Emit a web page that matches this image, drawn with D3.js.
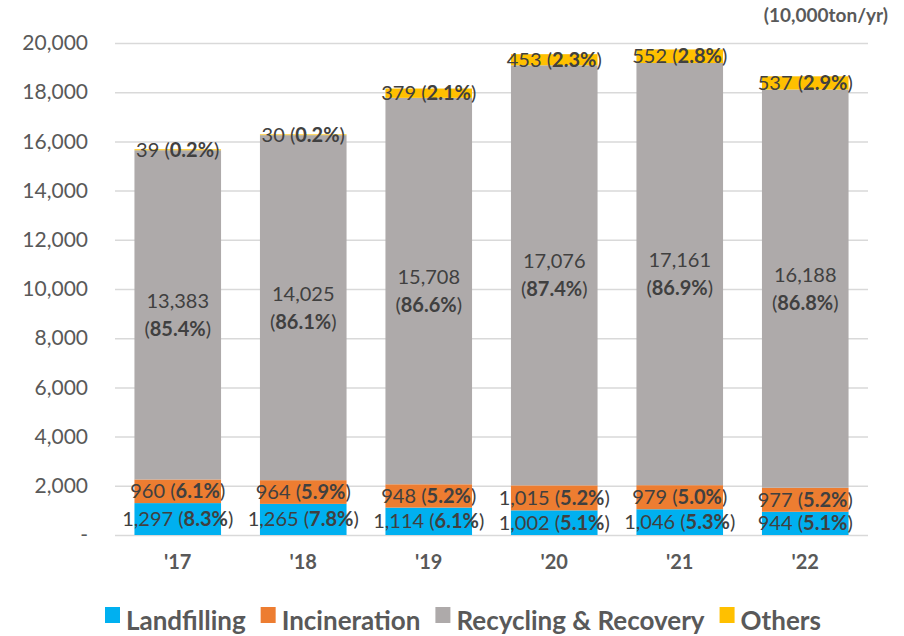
<!DOCTYPE html>
<html>
<head>
<meta charset="utf-8">
<script src="https://cdn.jsdelivr.net/npm/d3@7"></script>
<style>
  body { margin: 0; background: #fff; }
  text { font-family: Lato, "Open Sans", sans-serif; }
  .grid line { stroke: #d9d9d9; stroke-width: 1.5; }
  .grid path { display: none; }
</style>
</head>
<body>
<div id="chart"></div>
<script>
var years = ["'17", "'18", "'19", "'20", "'21", "'22"];
var landfilling = [1297, 1265, 1114, 1002, 1046, 944];
var incineration = [960, 964, 948, 1015, 979, 977];
var recycling = [13383, 14025, 15708, 17076, 17161, 16188];
var others = [39, 30, 379, 453, 552, 537];
var landfillingPct = ["8.3%", "7.8%", "6.1%", "5.1%", "5.3%", "5.1%"];
var incinerationPct = ["6.1%", "5.9%", "5.2%", "5.2%", "5.0%", "5.2%"];
var recyclingPct = ["85.4%", "86.1%", "86.6%", "87.4%", "86.9%", "86.8%"];
var othersPct = ["0.2%", "0.2%", "2.1%", "2.3%", "2.8%", "2.9%"];
var seriesNames = ["Landfilling", "Incineration", "Recycling & Recovery", "Others"];
var colors = ["#00b0f0", "#ed7d31", "#aeaaaa", "#ffc000"];
var yTicks = [0, 2000, 4000, 6000, 8000, 10000, 12000, 14000, 16000, 18000, 20000];

var margin = {top: 43, right: 36, bottom: 101, left: 115},
    width = 904 - margin.left - margin.right,
    height = 636 - margin.top - margin.bottom;

var svg = d3.select("#chart").append("svg")
    .attr("width", 904)
    .attr("height", 636);

var chart = svg.append("g")
    .attr("transform", "translate(" + margin.left + "," + margin.top + ")");

var x = d3.scaleBand()
    .domain(years)
    .range([0, width])
    .paddingInner(0.31)
    .paddingOuter(0.155);

var y = d3.scaleLinear()
    .domain([0, 20000])
    .range([height, 0]);

// gridlines
chart.append("g")
    .attr("class", "grid")
    .call(d3.axisLeft(y).tickValues(yTicks).tickSize(-width).tickFormat(""));

// y tick labels
var yAxis = chart.append("g")
    .call(d3.axisLeft(y).tickValues(yTicks).tickSize(0).tickPadding(27)
      .tickFormat(function(d) { return d === 0 ? "-" : d3.format(",")(d); }));
yAxis.select(".domain").remove();
yAxis.selectAll("text")
    .attr("fill", "#595959")
    .style("font-size", "21px");

// x labels
var xAxis = chart.append("g")
    .attr("transform", "translate(0," + height + ")")
    .call(d3.axisBottom(x).tickSize(0).tickPadding(20));
xAxis.select(".domain").remove();
xAxis.selectAll("text")
    .attr("fill", "#595959")
    .style("font-size", "20px")
    .style("font-weight", "bold");

// stack
var rows = years.map(function(yr, i) {
  return {year: yr, s0: landfilling[i], s1: incineration[i], s2: recycling[i], s3: others[i]};
});
var keys = ["s0", "s1", "s2", "s3"];
var pcts = [landfillingPct, incinerationPct, recyclingPct, othersPct];
var stacked = d3.stack().keys(keys)(rows);

var layer = chart.selectAll(".layer")
    .data(stacked)
  .enter().append("g")
    .attr("fill", function(d, i) { return colors[i]; });

layer.selectAll("rect")
    .data(function(d) { return d; })
  .enter().append("rect")
    .attr("x", function(d) { return x(d.data.year); })
    .attr("y", function(d) { return y(d[1]); })
    .attr("height", function(d) { return y(d[0]) - y(d[1]); })
    .attr("width", x.bandwidth());

// labels
stacked.forEach(function(s, si) {
  s.forEach(function(d, i) {
    var cx = x(d.data.year) + x.bandwidth() / 2;
    var cy = (y(d[0]) + y(d[1])) / 2;
    var val = d3.format(",")(d[1] - d[0]);
    if (si === 2) {
      var t = chart.append("text")
          .attr("x", cx)
          .attr("text-anchor", "middle")
          .attr("fill", "#404040")
          .style("font-size", "20px");
      t.append("tspan").attr("x", cx).attr("y", cy - 7).text(val);
      t.append("tspan").attr("x", cx).attr("y", cy + 21)
        .text("(").append("tspan").style("font-weight", "bold").text(pcts[si][i]);
      t.append("tspan").text(")");
    } else {
      var t2 = chart.append("text")
          .attr("x", cx)
          .attr("y", cy)
          .attr("dy", "0.35em")
          .attr("text-anchor", "middle")
          .attr("fill", "#404040")
          .style("font-size", "20px");
      t2.append("tspan").text(val + " (");
      t2.append("tspan").style("font-weight", "bold").text(pcts[si][i]);
      t2.append("tspan").text(")");
    }
  });
});

// unit
svg.append("text")
    .attr("x", 888)
    .attr("y", 22)
    .attr("text-anchor", "end")
    .attr("fill", "#595959")
    .style("font-size", "19px")
    .style("font-weight", "bold")
    .text("(10,000ton/yr)");

// legend
var legend = svg.append("g").attr("transform", "translate(0,622)");
var lx = 105;
seriesNames.forEach(function(name, i) {
  legend.append("rect")
      .attr("x", lx)
      .attr("y", -15)
      .attr("width", 15)
      .attr("height", 16)
      .attr("fill", colors[i]);
  var t = legend.append("text")
      .attr("x", lx + 21)
      .attr("y", 0)
      .attr("dy", "0.32em")
      .attr("fill", "#595959")
      .style("font-size", "26px")
      .style("font-weight", "bold")
      .text(name);
  lx += 21 + t.node().getComputedTextLength() + 15;
});
</script>
</body>
</html>
